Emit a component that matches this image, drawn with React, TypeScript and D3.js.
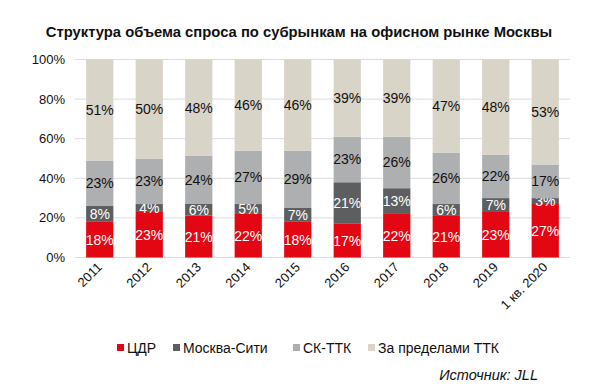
import React from "react";
import * as d3 from "d3";

const categories = ["2011", "2012", "2013", "2014", "2015", "2016", "2017", "2018", "2019", "1 кв. 2020"];
const seriesNames = ["ЦДР", "Москва-Сити", "СК-ТТК", "За пределами ТТК"];
const cdr = [18, 23, 21, 22, 18, 17, 22, 21, 23, 27];
const city = [8, 4, 6, 5, 7, 21, 13, 6, 7, 3];
const skttk = [23, 23, 24, 27, 29, 23, 26, 26, 22, 17];
const outside = [51, 50, 48, 46, 46, 39, 39, 47, 48, 53];
const yTicks = [0, 0.2, 0.4, 0.6, 0.8, 1];
const colors = ["#E30613", "#5D5E60", "#AEAFB1", "#D9D4C8"];
const labelColors = ["#ffffff", "#ffffff", "#111111", "#111111"];

const W = 600;
const H = 389;
const FONT = "'Liberation Sans', Arial, sans-serif";

export default function App() {
  const x = d3.scaleBand().domain(categories).range([75, 570]).paddingInner(0.45).paddingOuter(0.225);
  const y = d3.scaleLinear().domain([0, 1]).range([257.5, 59.5]);
  const series = [cdr, city, skttk, outside];
  const rows = categories.map((c, i) => ({ cat: c, s0: cdr[i], s1: city[i], s2: skttk[i], s3: outside[i] }));
  const stack = d3.stack<any>().keys(["s0", "s1", "s2", "s3"]).offset(d3.stackOffsetExpand);
  const stacked = stack(rows);
  const fmt = d3.format(".0%");

  const legendX = [121, 177, 297, 372];

  return (
    <svg width={W} height={H} style={{ position: "absolute", left: 0, top: 0, background: "#fff" }} fontFamily={FONT}>
      <rect width={W} height={H} fill="#fff" />
      <text x={299} y={37} textAnchor="middle" fontSize={14.8} fontWeight="bold" fill="#111">
        Структура объема спроса по субрынкам на офисном рынке Москвы
      </text>
      {yTicks.map((t) => (
        <g key={t}>
          <line x1={75} x2={570} y1={y(t)} y2={y(t)} stroke="#dcdcdc" strokeWidth={1} />
          <text x={65} y={y(t) + 4.5} textAnchor="end" fontSize={13} fill="#111">
            {fmt(t)}
          </text>
        </g>
      ))}
      {stacked.map((layer, li) => (
        <g key={li}>
          {layer.map((d, i) => {
            const bx = x(categories[i])!;
            const y0 = y(d[0]);
            const y1 = y(d[1]);
            return (
              <g key={i}>
                <rect x={bx} y={y1} width={x.bandwidth()} height={y0 - y1} fill={colors[li]} />
                <text
                  x={bx + x.bandwidth() / 2}
                  y={(y0 + y1) / 2 + 5}
                  textAnchor="middle"
                  fontSize={14}
                  fill={labelColors[li]}
                >
                  {series[li][i]}%
                </text>
              </g>
            );
          })}
        </g>
      ))}
      {categories.map((c) => {
        const cx = x(c)! + x.bandwidth() / 2 + 3;
        return (
          <text key={c} transform={`translate(${cx},${268}) rotate(-45)`} textAnchor="end" fontSize={13} fill="#111">
            {c}
          </text>
        );
      })}
      {seriesNames.map((n, i) => (
        <g key={n}>
          <rect x={legendX[i] - 4} y={344} width={7} height={7} fill={colors[i]} />
          <text x={legendX[i] + 6} y={353} fontSize={14} fill="#111">
            {n}
          </text>
        </g>
      ))}
      <text x={538} y={380} textAnchor="end" fontSize={14.5} fontStyle="italic" fill="#111">
        Источник: JLL
      </text>
    </svg>
  );
}
